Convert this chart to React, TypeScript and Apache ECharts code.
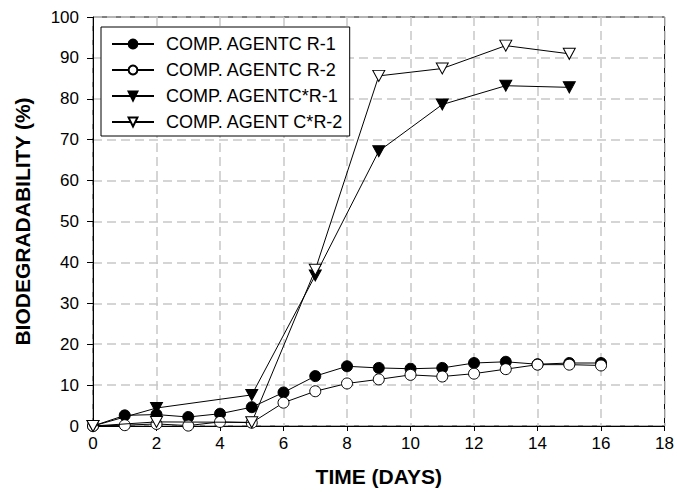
import React, { useEffect, useRef } from "react";
import * as echarts from "echarts";

const daysR = [0, 1, 2, 3, 4, 5, 6, 7, 8, 9, 10, 11, 12, 13, 14, 15, 16];
const agentCR1 = [0, 2.6, 2.8, 2.2, 3.0, 4.6, 8.2, 12.2, 14.6, 14.2, 14.0, 14.2, 15.4, 15.7, 15.1, 15.4, 15.4];
const agentCR2 = [0, 0.2, 0.5, 0.1, 1.0, 0.8, 5.7, 8.5, 10.4, 11.4, 12.5, 12.1, 12.8, 13.9, 15.0, 15.0, 14.8];
const daysStar = [0, 2, 5, 7, 9, 11, 13, 15];
const agentCStarR1 = [0, 4.4, 7.6, 36.8, 67.2, 78.6, 83.2, 82.8];
const agentCStarR2 = [0, 1.0, 0.9, 38.2, 85.6, 87.4, 93.0, 91.0];

const seriesNames = [
  "COMP. AGENTC R-1",
  "COMP. AGENTC R-2",
  "COMP. AGENTC*R-1",
  "COMP. AGENT C*R-2",
];
const xTicks = { min: 0, max: 18, interval: 2 };
const yTicks = { min: 0, max: 100, interval: 10 };

const triDown = "path://M0,0 L10,0 L5,9 Z";
const FONT = "Liberation Sans, Arial, sans-serif";

function pairs(xs: number[], ys: number[]) {
  return xs.map((x, i) => [x, ys[i]]);
}

export default function App() {
  const ref = useRef<HTMLDivElement>(null);
  useEffect(() => {
    if (!ref.current) return;
    const chart = echarts.init(ref.current, undefined, { renderer: "svg" });
    const base = {
      type: "line",
      lineStyle: { color: "#000", width: 1 },
      emphasis: { disabled: true },
    };
    chart.setOption({
      animation: false,
      backgroundColor: "#fff",
      textStyle: { fontFamily: FONT },
      grid: { left: 93, right: 10, top: 17, bottom: 63, show: true, borderColor: "#000", borderWidth: 1, backgroundColor: "transparent" },
      legend: {
        orient: "vertical",
        left: 101,
        top: 27,
        padding: [8, 6, 5, 10],
        borderColor: "#000",
        borderWidth: 1,
        backgroundColor: "#fff",
        itemWidth: 42,
        itemHeight: 11,
        itemGap: 8,
        textStyle: { fontSize: 18, color: "#000", fontFamily: FONT, padding: [0, 0, 0, 7] },
        data: seriesNames,
      },
      xAxis: {
        type: "value",
        min: xTicks.min,
        max: xTicks.max,
        interval: xTicks.interval,
        name: "TIME (DAYS)",
        nameLocation: "middle",
        nameGap: 40,
        nameTextStyle: { fontSize: 21, fontWeight: "bold", color: "#000", fontFamily: FONT },
        axisLine: { lineStyle: { color: "#000", width: 1 } },
        axisTick: { show: true, length: 5, lineStyle: { color: "#000" } },
        axisLabel: { fontSize: 17, color: "#000", margin: 9, fontFamily: FONT },
        splitLine: { show: true, lineStyle: { color: "#c8c8c8", type: [9, 5], width: 1.5 } },
      },
      yAxis: {
        type: "value",
        min: yTicks.min,
        max: yTicks.max,
        interval: yTicks.interval,
        name: "BIODEGRADABILITY (%)",
        nameLocation: "middle",
        nameGap: 60,
        nameTextStyle: { fontSize: 21, fontWeight: "bold", color: "#000", fontFamily: FONT },
        axisLine: { show: true, lineStyle: { color: "#000", width: 1 } },
        axisTick: { show: true, length: 6, lineStyle: { color: "#000" } },
        axisLabel: { fontSize: 17, color: "#000", margin: 14, fontFamily: FONT },
        splitLine: { show: true, lineStyle: { color: "#c8c8c8", type: [9, 5], width: 1.5 } },
      },
      series: [
        {
          ...base,
          name: seriesNames[0],
          data: pairs(daysR, agentCR1),
          symbol: "circle",
          symbolSize: 11,
          itemStyle: { color: "#000", borderColor: "#000", borderWidth: 1 },
          z: 3,
        },
        {
          ...base,
          name: seriesNames[1],
          data: pairs(daysR, agentCR2),
          symbol: "circle",
          symbolSize: 11,
          itemStyle: { color: "#fff", borderColor: "#000", borderWidth: 1 },
          z: 4,
        },
        {
          ...base,
          name: seriesNames[2],
          data: pairs(daysStar, agentCStarR1),
          symbol: triDown,
          symbolSize: [12, 11],
          itemStyle: { color: "#000", borderColor: "#000", borderWidth: 1 },
          z: 5,
        },
        {
          ...base,
          name: seriesNames[3],
          data: pairs(daysStar, agentCStarR2),
          symbol: triDown,
          symbolSize: [12, 11],
          itemStyle: { color: "#fff", borderColor: "#000", borderWidth: 1 },
          z: 6,
        },
      ],
    });
    return () => chart.dispose();
  }, []);
  return <div ref={ref} style={{ width: 677, height: 492, position: "absolute", left: 0, top: 0 }} />;
}
